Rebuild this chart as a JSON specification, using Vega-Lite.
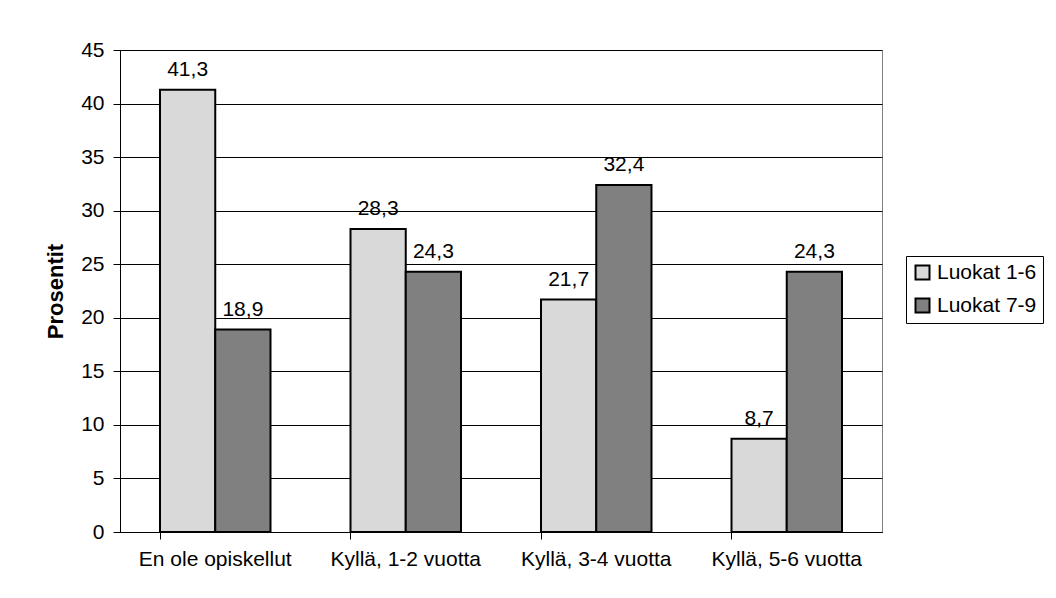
{
  "$schema": "https://vega.github.io/schema/vega-lite/v6.json",
  "autosize": {"type": "none"},
  "width": 762,
  "height": 482,
  "padding": {"left": 120, "top": 50, "right": 174, "bottom": 66},
  "background": "white",
  "data": {
    "values": [
      {"kategoria": "En ole opiskellut", "luokat": "Luokat 1-6", "prosentti": 41.3},
      {"kategoria": "En ole opiskellut", "luokat": "Luokat 7-9", "prosentti": 18.9},
      {"kategoria": "Kyllä, 1-2 vuotta", "luokat": "Luokat 1-6", "prosentti": 28.3},
      {"kategoria": "Kyllä, 1-2 vuotta", "luokat": "Luokat 7-9", "prosentti": 24.3},
      {"kategoria": "Kyllä, 3-4 vuotta", "luokat": "Luokat 1-6", "prosentti": 21.7},
      {"kategoria": "Kyllä, 3-4 vuotta", "luokat": "Luokat 7-9", "prosentti": 32.4},
      {"kategoria": "Kyllä, 5-6 vuotta", "luokat": "Luokat 1-6", "prosentti": 8.7},
      {"kategoria": "Kyllä, 5-6 vuotta", "luokat": "Luokat 7-9", "prosentti": 24.3}
    ]
  },
  "encoding": {
    "x": {
      "field": "kategoria",
      "type": "nominal",
      "sort": null,
      "scale": {"paddingInner": 0.42, "paddingOuter": 0.21},
      "axis": {
        "title": null,
        "labelAngle": 0,
        "bandPosition": 0,
        "tickSize": 7,
        "labelPadding": 9,
        "domainColor": "black",
        "tickColor": "black",
        "grid": false
      }
    },
    "xOffset": {"field": "luokat", "type": "nominal", "scale": {"paddingInner": 0, "paddingOuter": 0}},
    "y": {
      "field": "prosentti",
      "type": "quantitative",
      "scale": {"domain": [0, 45], "nice": false},
      "axis": {
        "title": "Prosentit",
        "values": [0, 5, 10, 15, 20, 25, 30, 35, 40, 45],
        "tickSize": 7,
        "labelPadding": 9,
        "titlePadding": 13,
        "titleFontWeight": "bold",
        "titleFontSize": 22,
        "domainColor": "black",
        "tickColor": "black",
        "grid": true,
        "gridColor": "black",
        "gridOpacity": 1,
        "gridWidth": 1
      }
    }
  },
  "layer": [
    {
      "mark": {"type": "bar", "stroke": "black", "strokeWidth": 2},
      "encoding": {
        "color": {
          "field": "luokat",
          "type": "nominal",
          "scale": {"domain": ["Luokat 1-6", "Luokat 7-9"], "range": ["#d9d9d9", "#808080"]},
          "legend": {
            "title": null,
            "orient": "none",
            "legendX": 786,
            "legendY": 206,
            "strokeColor": "black",
            "fillColor": "white",
            "padding": 6,
            "symbolType": "square",
            "symbolSize": 196,
            "symbolStrokeColor": "black",
            "symbolStrokeWidth": 2,
            "symbolOpacity": 1,
            "labelFontSize": 21,
            "labelOffset": 4,
            "rowPadding": 10
          }
        }
      }
    },
    {
      "mark": {"type": "text", "baseline": "alphabetic", "dy": -14, "fontSize": 21, "color": "black"},
      "encoding": {
        "text": {"field": "prosentti", "type": "quantitative", "format": ".1f"}
      }
    }
  ],
  "config": {
    "locale": {
      "number": {"decimal": ",", "thousands": " ", "grouping": [3], "currency": ["", " €"]}
    },
    "font": "Liberation Sans",
    "view": {"stroke": "#808080", "strokeWidth": 1},
    "axis": {
      "labelFontSize": 21,
      "labelColor": "black",
      "titleColor": "black",
      "labelFont": "Liberation Sans",
      "titleFont": "Liberation Sans"
    },
    "legend": {"labelFont": "Liberation Sans", "labelColor": "black"}
  }
}
